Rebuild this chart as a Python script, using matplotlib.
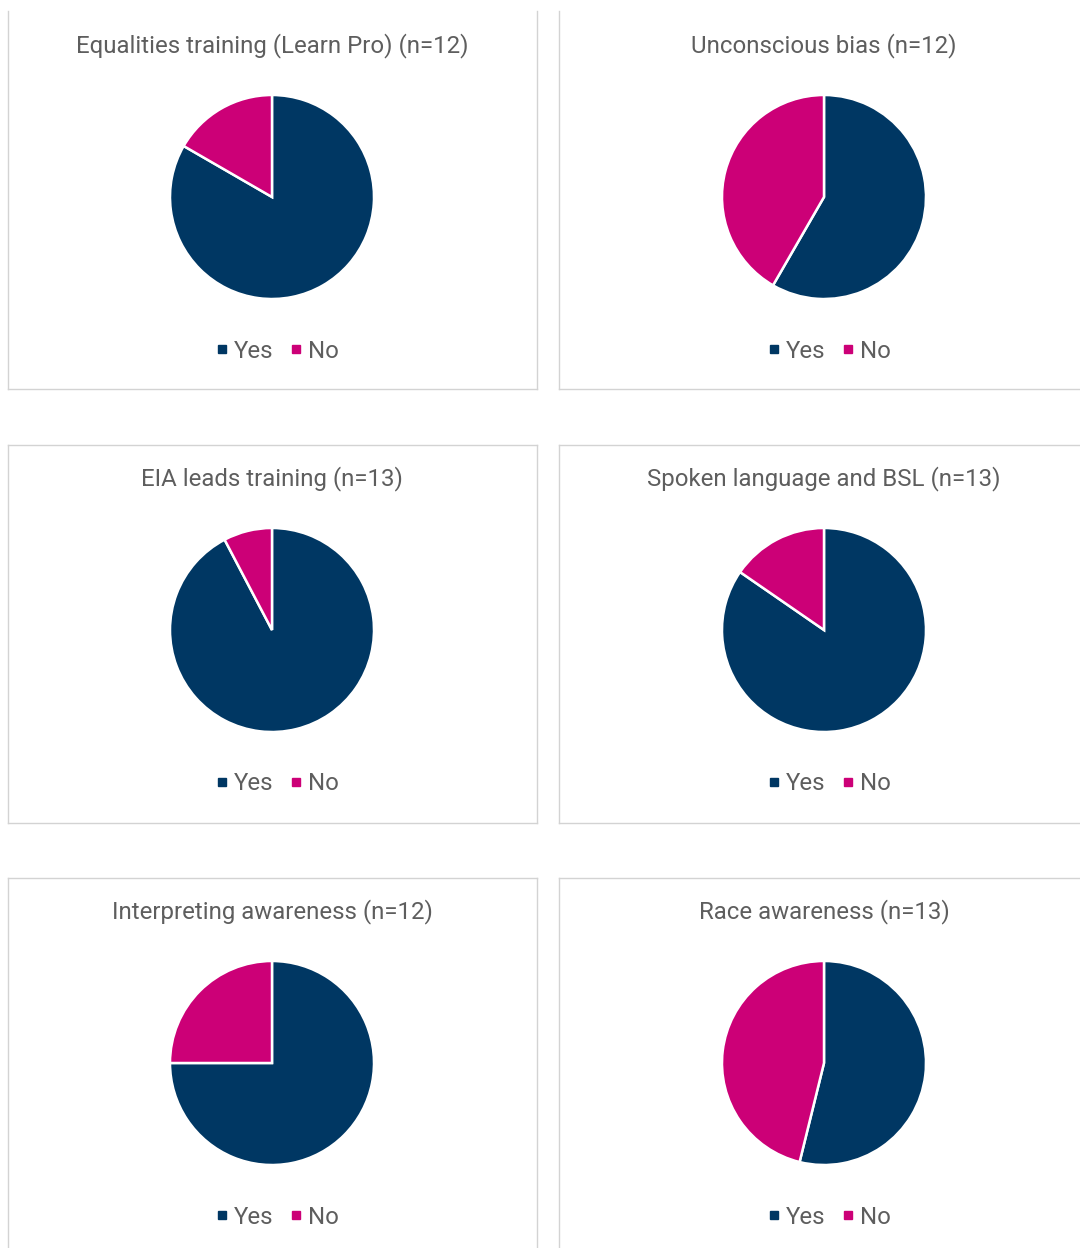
import matplotlib.pyplot as plt
from matplotlib.lines import Line2D

plt.rcParams['font.family'] = ['Roboto', 'DejaVu Sans']

Titles = ["Equalities training (Learn Pro) (n=12)", "Unconscious bias (n=12)",
          "EIA leads training (n=13)", "Spoken language and BSL (n=13)",
          "Interpreting awareness (n=12)", "Race awareness (n=13)"]
YesCounts = [10, 7, 12, 11, 9, 7]
NoCounts = [2, 5, 1, 2, 3, 6]
Labels = ["Yes", "No"]
Colours = ["#003763", "#CC0077"]

W, H = 1080, 1248
fig = plt.figure(figsize=(W/100, H/100), dpi=100)

def fx(px):
    return px / W

def fy(py):
    return 1 - py / H

# box geometry in pixels (left, right, top, bottom)
ColX = [(8, 537), (559, 1085)]
RowY = [(-5, 389), (445, 823), (878, 1255)]
PieCx = [272, 824]
PieCy = [197, 630, 1063]
R = 102
Grey = "#D3D3D3"
TextGrey = "#5E5E5E"

for i in range(6):
    r, c = divmod(i, 2)
    x0, x1 = ColX[c]
    y0, y1 = RowY[r]
    # border lines
    segs = [((x0, x0), (max(y0, 11), y1)), ((x1, x1), (max(y0, 11), y1)),
            ((x0, x1), (y1, y1)), ((x0, x1), (y0, y0))]
    for xs, ys in segs:
        fig.add_artist(Line2D([fx(v) for v in xs], [fy(v) for v in ys],
                              color=Grey, lw=1.0))

    cx, cy = PieCx[c], PieCy[r]
    ax = fig.add_axes([fx(cx - R), fy(cy + R), 2*R/W, 2*R/H])
    ax.pie([YesCounts[i], NoCounts[i]], colors=Colours, startangle=90,
           counterclock=False, radius=1,
           wedgeprops=dict(edgecolor="white", linewidth=1.8))
    ax.set_xlim(-1.0, 1.0)
    ax.set_ylim(-1.0, 1.0)
    ax.axis("off")

    fig.text(fx(cx), fy(cy - 151.5), Titles[i], ha="center", va="center",
             fontsize=17.3, color=TextGrey)

    handles = [Line2D([], [], marker="s", ls="", color=col, markersize=5.5)
               for col in Colours]
    fig.legend(handles, Labels, loc="center",
               bbox_to_anchor=(fx(cx + 6), fy(cy + 154)), ncol=2, frameon=False,
               fontsize=17.3, labelcolor=TextGrey, handlelength=0.4,
               handletextpad=0.3, columnspacing=0.75)

plt.savefig("out.png", dpi=100)
